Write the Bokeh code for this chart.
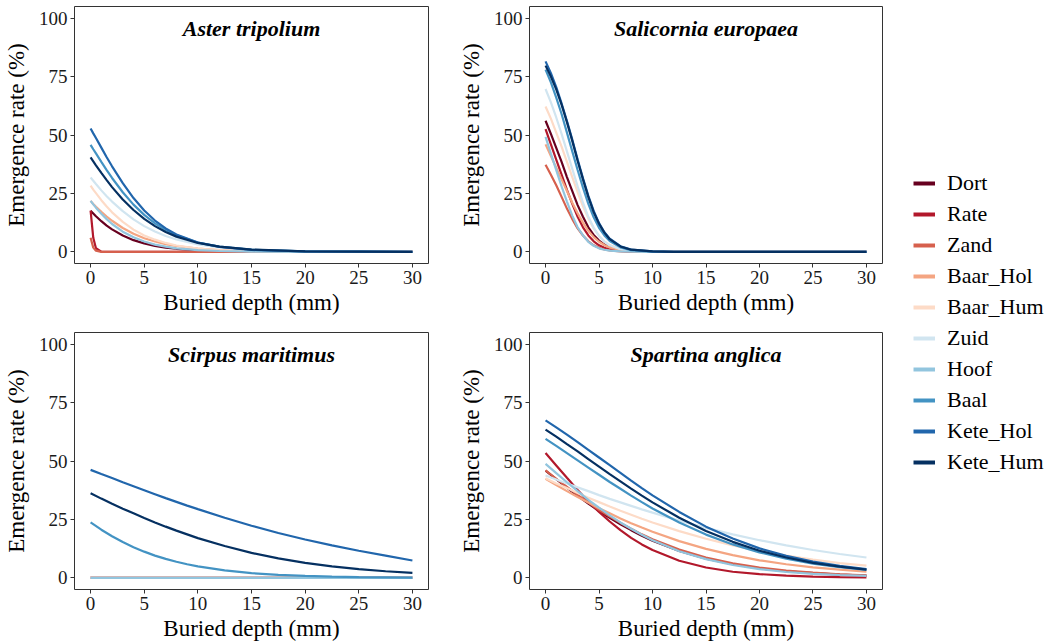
from bokeh.plotting import figure
from bokeh.layouts import row, column
from bokeh.models import Range1d, Label, Legend, LegendItem, FixedTicker
from bokeh.embed import file_html
from bokeh.resources import INLINE

sites = ["Dort", "Rate", "Zand", "Baar_Hol", "Baar_Hum", "Zuid", "Hoof", "Baal", "Kete_Hol", "Kete_Hum"]
colors = ["#67001f", "#b2182b", "#d6604d", "#f4a582", "#fddbc7",
          "#d1e5f0", "#92c5de", "#4393c3", "#2166ac", "#053061"]

x_ticks = [0, 5, 10, 15, 20, 25, 30]
y_ticks = [0, 25, 50, 75, 100]

# ---- Aster tripolium ----
aster_depth = [0, 0.25, 0.5, 1, 1.5, 2, 3, 4, 5, 6, 7, 8, 10, 12, 15, 20, 30]
aster = {
    "Dort":     [17.6, 16.4, 15.2, 13.1, 11.2, 9.6, 7.0, 5.0, 3.6, 2.5, 1.8, 1.3, 0.6, 0.3, 0.1, 0, 0],
    "Rate":     [17.6, 6.0, 1.5, 0.1, 0, 0, 0, 0, 0, 0, 0, 0, 0, 0, 0, 0, 0],
    "Zand":     [6.0, 1.8, 0.5, 0, 0, 0, 0, 0, 0, 0, 0, 0, 0, 0, 0, 0, 0],
    "Baar_Hol": [21.8, 20.5, 19.3, 17.1, 15.1, 13.3, 10.2, 7.7, 5.8, 4.4, 3.3, 2.5, 1.4, 0.75, 0.3, 0.05, 0],
    "Baar_Hum": [28.3, 26.6, 25.1, 22.1, 19.4, 16.9, 12.8, 9.5, 7.0, 5.2, 3.8, 2.7, 1.4, 0.75, 0.3, 0.05, 0],
    "Zuid":     [31.8, 30.4, 29.0, 26.3, 23.8, 21.5, 17.4, 13.9, 11.0, 8.7, 6.8, 5.3, 3.2, 1.9, 0.9, 0.2, 0],
    "Hoof":     [21.8, 20.3, 18.9, 16.3, 14.0, 11.9, 8.6, 6.2, 4.4, 3.1, 2.2, 1.5, 0.7, 0.35, 0.1, 0, 0],
    "Baal":     [45.8, 43.9, 42.1, 38.5, 35.0, 31.6, 25.5, 20.2, 15.8, 12.2, 9.3, 7.1, 4.0, 2.2, 0.9, 0.2, 0],
    "Kete_Hol": [52.8, 50.7, 48.7, 44.6, 40.5, 36.6, 29.4, 23.0, 17.7, 13.4, 10.0, 7.4, 4.0, 2.1, 0.8, 0.15, 0],
    "Kete_Hum": [40.4, 38.7, 37.0, 33.8, 30.7, 27.7, 22.4, 17.9, 14.1, 11.0, 8.5, 6.5, 3.8, 2.2, 0.95, 0.23, 0],
}

# ---- Salicornia europaea ----
sali_depth = [0, 0.5, 1, 1.5, 2, 2.5, 3, 3.5, 4, 4.5, 5, 5.5, 6, 7, 8, 10, 12, 30]
salicornia = {
    "Dort":     [56.1, 50.5, 44.5, 38.5, 32, 26, 20, 15, 10.5, 7.2, 4.8, 3.1, 2.0, 0.8, 0.3, 0, 0, 0],
    "Rate":     [52.5, 46, 39.5, 33, 26.5, 20.5, 15, 10.5, 7, 4.5, 2.8, 1.7, 1.0, 0.35, 0.1, 0, 0, 0],
    "Zand":     [37.3, 33, 28.5, 23.5, 18.5, 14, 10, 7, 4.5, 2.8, 1.7, 1.0, 0.6, 0.2, 0.05, 0, 0, 0],
    "Baar_Hol": [46, 41, 36, 31, 26, 21, 16.5, 12.5, 9, 6.3, 4.3, 2.9, 1.9, 0.8, 0.3, 0, 0, 0],
    "Baar_Hum": [62.2, 57, 51, 45, 38.5, 32, 25.5, 19.5, 14.3, 10, 6.8, 4.5, 2.9, 1.2, 0.45, 0.05, 0, 0],
    "Zuid":     [69.7, 64, 57.5, 50.5, 43, 35.5, 28, 21, 15, 10.3, 6.8, 4.4, 2.8, 1.1, 0.4, 0.05, 0, 0],
    "Hoof":     [49.2, 42, 35, 28, 21.5, 15.5, 10.5, 7, 4.3, 2.6, 1.5, 0.9, 0.5, 0.15, 0.05, 0, 0, 0],
    "Baal":     [78, 72.5, 66, 59, 51, 43, 35, 27.5, 20.5, 14.8, 10.3, 7, 4.6, 1.9, 0.75, 0.1, 0, 0],
    "Kete_Hol": [81.5, 76.5, 70.5, 63.5, 56, 48, 39.5, 31.5, 24, 17.5, 12.3, 8.4, 5.6, 2.4, 0.95, 0.15, 0, 0],
    "Kete_Hum": [79.7, 75, 69.5, 63, 55.5, 47.5, 39, 31, 23.5, 17, 12, 8.2, 5.4, 2.3, 0.9, 0.15, 0, 0],
}

# ---- Scirpus maritimus ----
scir_depth = [0, 1, 2, 3, 4, 5, 6, 7, 8, 9, 10, 12.5, 15, 17.5, 20, 22.5, 25, 27.5, 30]
zeros19 = [0] * 19
scirpus = {
    "Dort":     zeros19,
    "Rate":     zeros19,
    "Zand":     zeros19,
    "Baar_Hol": zeros19,
    "Baar_Hum": zeros19,
    "Zuid":     zeros19,
    "Hoof":     zeros19,
    "Baal":     [23.7, 20.6, 17.8, 15.3, 13.1, 11.2, 9.5, 8.1, 6.9, 5.8, 4.9, 3.2, 2.0, 1.3, 0.8, 0.5, 0.3, 0.2, 0.1],
    "Kete_Hol": [46.2, 44.4, 42.7, 40.9, 39.2, 37.5, 35.8, 34.1, 32.5, 30.9, 29.4, 25.7, 22.3, 19.2, 16.4, 13.9, 11.6, 9.5, 7.4],
    "Kete_Hum": [36.2, 33.9, 31.7, 29.6, 27.6, 25.6, 23.7, 21.9, 20.2, 18.6, 17.0, 13.6, 10.7, 8.3, 6.4, 4.9, 3.7, 2.8, 2.1],
}

# ---- Spartina anglica ----
spar_depth = [0, 1, 2, 3, 4, 5, 6, 7, 8, 9, 10, 12.5, 15, 17.5, 20, 22.5, 25, 27.5, 30]
spartina = {
    "Dort":     [45.9, 42.2, 38.6, 35.1, 31.8, 28.6, 25.7, 22.9, 20.4, 18.0, 15.9, 11.5, 8.2, 5.8, 4.0, 2.8, 2.0, 1.4, 0.9],
    "Rate":     [53.4, 48.1, 42.8, 37.6, 32.7, 28.2, 24.1, 20.4, 17.1, 14.3, 11.9, 7.3, 4.4, 2.6, 1.6, 0.9, 0.5, 0.3, 0.2],
    "Zand":     [46.0, 42.4, 38.9, 35.5, 32.2, 29.1, 26.2, 23.5, 21.0, 18.6, 16.5, 12.1, 8.7, 6.2, 4.4, 3.1, 2.2, 1.5, 1.1],
    "Baar_Hol": [42.4, 39.7, 37.1, 34.6, 32.2, 29.8, 27.6, 25.4, 23.4, 21.5, 19.7, 15.7, 12.4, 9.7, 7.5, 5.8, 4.5, 3.5, 2.6],
    "Baar_Hum": [42.6, 40.4, 38.4, 36.3, 34.3, 32.4, 30.5, 28.7, 27.0, 25.3, 23.7, 20.0, 16.7, 13.9, 11.5, 9.5, 7.8, 6.3, 5.2],
    "Zuid":     [43.8, 42.1, 40.4, 38.7, 37.1, 35.4, 33.8, 32.3, 30.8, 29.3, 27.9, 24.5, 21.4, 18.6, 16.1, 13.9, 11.9, 10.2, 8.7],
    "Hoof":     [48.8, 44.8, 40.9, 37.1, 33.4, 30.0, 26.7, 23.7, 21.0, 18.4, 16.1, 11.4, 8.0, 5.5, 3.7, 2.5, 1.7, 1.2, 0.8],
    "Baal":     [59.5, 56.5, 53.4, 50.3, 47.2, 44.1, 41.0, 38.1, 35.2, 32.4, 29.7, 23.7, 18.5, 14.3, 10.9, 8.2, 6.1, 4.6, 3.4],
    "Kete_Hol": [67.4, 64.4, 61.3, 58.1, 54.8, 51.5, 48.2, 44.9, 41.6, 38.4, 35.3, 28.2, 21.9, 16.8, 12.6, 9.4, 6.9, 5.1, 3.7],
    "Kete_Hum": [63.4, 60.4, 57.2, 54.1, 50.8, 47.6, 44.4, 41.3, 38.2, 35.2, 32.3, 25.7, 20.0, 15.4, 11.6, 8.7, 6.4, 4.8, 3.5],
}

FONT = "Liberation Serif"


def make_panel(title, depth, series, width, height, bl, br, bt, bb):
    p = figure(width=width, height=height, output_backend="svg", toolbar_location=None,
               x_range=Range1d(-1.5, 31.5), y_range=Range1d(-5, 105),
               min_border_left=bl, min_border_right=br, min_border_top=bt, min_border_bottom=bb)
    for s, c in zip(sites, colors):
        p.line(depth, series[s], line_color=c, line_width=2.2)
    p.grid.visible = False
    p.outline_line_color = "#333333"
    p.outline_line_width = 1
    p.xaxis.ticker = FixedTicker(ticks=x_ticks)
    p.yaxis.ticker = FixedTicker(ticks=y_ticks)
    p.xaxis.axis_label = "Buried depth (mm)"
    p.yaxis.axis_label = "Emergence rate (%)"
    for ax in (p.xaxis, p.yaxis):
        ax.axis_line_color = None
        ax.minor_tick_line_color = None
        ax.major_tick_out = 4
        ax.major_tick_in = 0
        ax.major_tick_line_color = "#333333"
        ax.major_label_text_font = FONT
        ax.major_label_text_font_size = "19px"
        ax.major_label_text_color = "#1a1a1a"
        ax.major_label_standoff = 3
        ax.axis_label_text_font = FONT
        ax.axis_label_text_font_size = "23px"
        ax.axis_label_text_font_style = "normal"
        ax.axis_label_text_color = "black"
    p.xaxis.axis_label_standoff = 3
    p.yaxis.axis_label_standoff = 7
    p.add_layout(Label(x=15, y=95.4, text=title, text_font=FONT, text_font_size="22px",
                       text_font_style="bold italic", text_align="center",
                       text_baseline="middle", text_color="black"))
    return p


p1 = make_panel("Aster tripolium", aster_depth, aster, 438, 320, 74, 10, 6, 57)
p2 = make_panel("Salicornia europaea", sali_depth, salicornia, 446, 320, 91, 2, 6, 57)
p3 = make_panel("Scirpus maritimus", scir_depth, scirpus, 438, 323, 74, 10, 12, 54)
p4 = make_panel("Spartina anglica", spar_depth, spartina, 446, 323, 91, 2, 12, 54)

lf = figure(width=174, height=643, output_backend="svg", toolbar_location=None,
            x_range=Range1d(0, 1), y_range=Range1d(0, 1),
            x_axis_location=None, y_axis_location=None, min_border=0)
lf.grid.visible = False
lf.outline_line_color = None
items = []
for s, c in zip(sites, colors):
    r = lf.line(x=[float("nan")], y=[float("nan")], line_color=c, line_width=4)
    items.append(LegendItem(label=s, renderers=[r]))
leg = Legend(items=items, location=(29, 168), orientation="vertical",
             glyph_width=22, glyph_height=20, label_height=20, label_standoff=12,
             spacing=5, padding=0, margin=0, border_line_color=None,
             background_fill_alpha=0, label_text_font=FONT,
             label_text_font_size="22px", label_text_color="black")
lf.add_layout(leg)

layout = row(column(p1, p3), column(p2, p4), lf)
open("out.html", "w").write(file_html(layout, INLINE))
